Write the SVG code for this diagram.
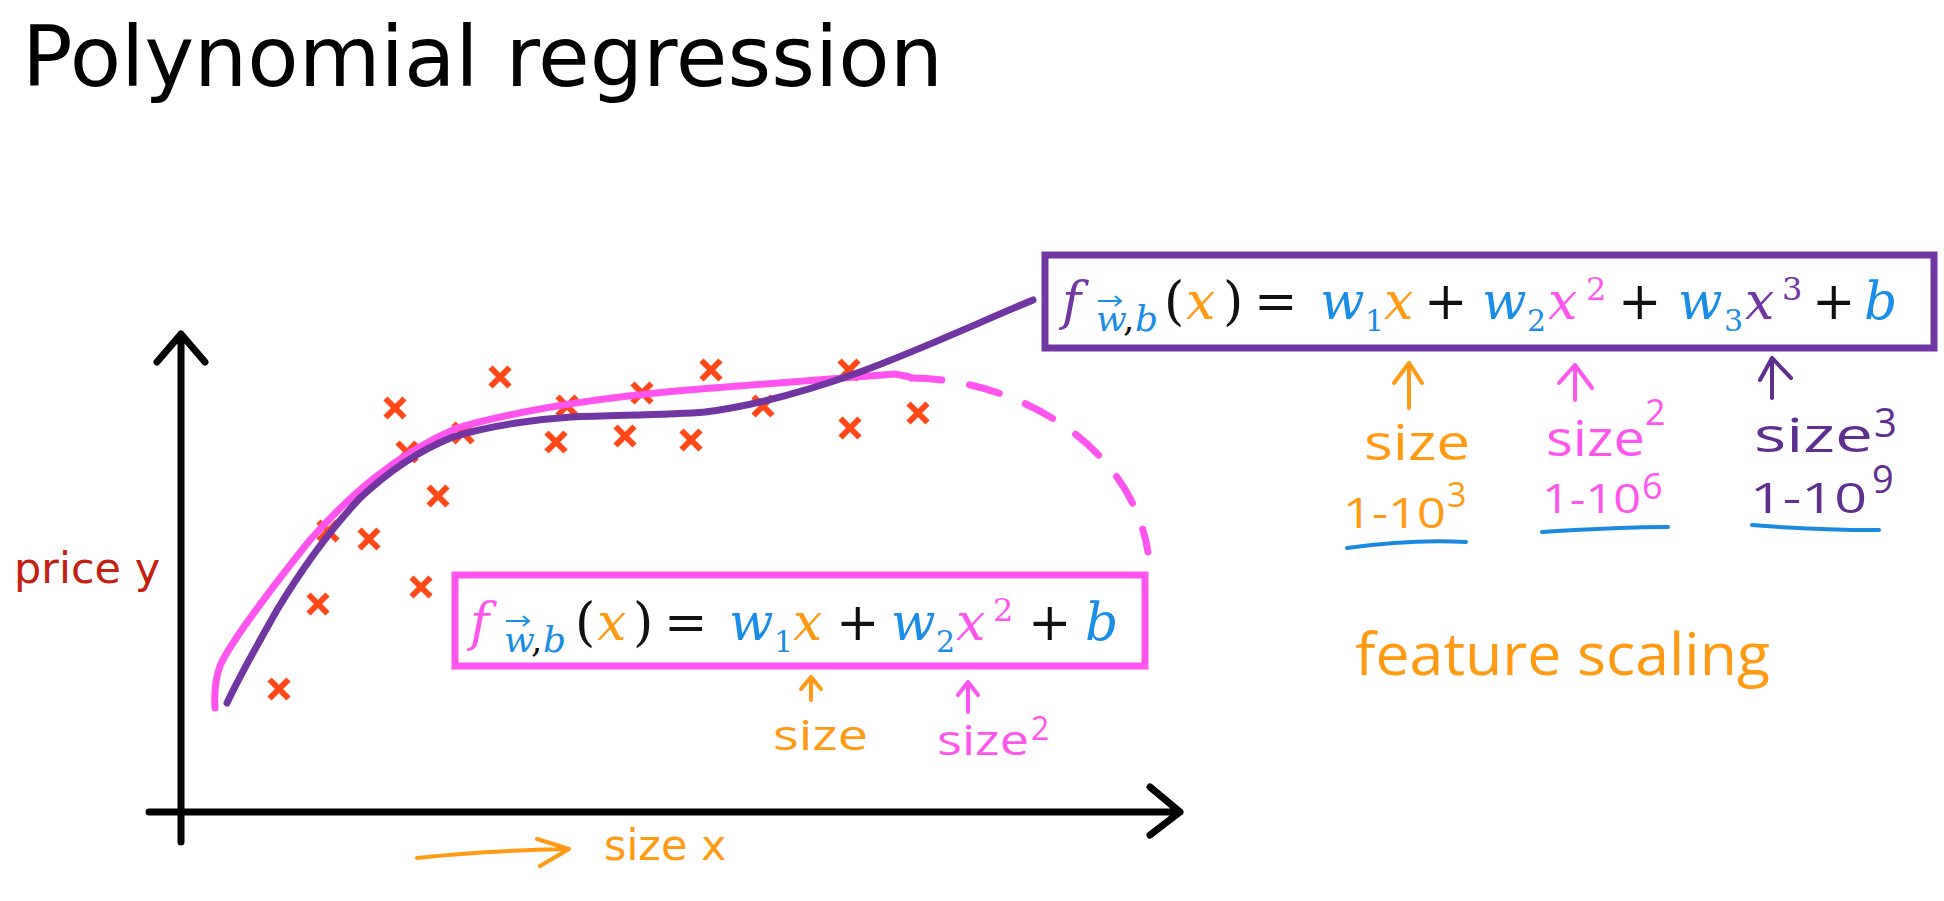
<svg xmlns="http://www.w3.org/2000/svg" width="1944" height="901" viewBox="0 0 1944 901">
<defs>
<style>
.title{font-family:"DejaVu Sans",Verdana,sans-serif;font-size:84px;fill:#000}
.lbl{font-family:"DejaVu Sans",Verdana,sans-serif;font-size:43px}
.hand{font-family:"Open Sans","Lato",sans-serif}
.math{font-family:"DejaVu Serif",serif;font-size:52px}
.it{font-style:italic}
.sub{font-size:36px}
.dig{font-size:30px;font-style:normal}
.sup{font-size:32px;font-style:normal}
.blue{fill:#1a8de6}
.orange{fill:#ff9a12}
.pink{fill:#ff55ee}
.purple{fill:#7236a3}
.dpurple{fill:#5e2f8f}
.black{fill:#111}
.axis{stroke:#000;stroke-width:7;fill:none;stroke-linecap:round;stroke-linejoin:round}
.curve{fill:none;stroke-width:7;stroke-linecap:round;stroke-linejoin:round}
.mk{stroke:#ff4718;stroke-width:6;fill:none}
.harrow{fill:none;stroke-width:4;stroke-linecap:round;stroke-linejoin:round}
.uline{fill:none;stroke:#1a8ae0;stroke-width:4;stroke-linecap:round}
</style>
<path id="xm" class="mk" d="M-9.5,-9.5 L9.5,9.5 M9.5,-9.5 L-9.5,9.5"/>
</defs>
<rect width="1944" height="901" fill="#fff"/>

<g id="title"><text class="title" x="22" y="86">Polynomial regression</text></g>

<g id="axes">
<path class="axis" d="M181,842 L181,334 M157,362 L181,334 L205,362"/>
<path class="axis" d="M149,812 L1180,812 M1150,787 L1180,812 L1150,835"/>
<text class="lbl" x="14" y="583" fill="#c4200f">price y</text>
<text class="lbl" x="604" y="860" fill="#ff9a12">size x</text>
</g>

<g id="data-points">
<use href="#xm" x="279" y="689"/>
<use href="#xm" x="318" y="604"/>
<use href="#xm" x="328" y="531"/>
<use href="#xm" x="369" y="539"/>
<use href="#xm" x="421" y="587"/>
<use href="#xm" x="438" y="496"/>
<use href="#xm" x="395" y="408"/>
<use href="#xm" x="407" y="452"/>
<use href="#xm" x="463" y="433"/>
<use href="#xm" x="500" y="377"/>
<use href="#xm" x="556" y="442"/>
<use href="#xm" x="567" y="406"/>
<use href="#xm" x="625" y="436"/>
<use href="#xm" x="642" y="393"/>
<use href="#xm" x="691" y="440"/>
<use href="#xm" x="711" y="370"/>
<use href="#xm" x="763" y="406"/>
<use href="#xm" x="849" y="370"/>
<use href="#xm" x="850" y="428"/>
<use href="#xm" x="918" y="413"/>
</g>

<g id="curves">
<path id="pink-curve" class="curve" stroke="#ff55ee" d="M215,708 C214,690 215,672 225,656 C240,630 270,590 310,540 C350,495 395,455 457,428 C520,410 600,397 700,389 C780,383 850,378 895,374 L910,377"/>
<path id="pink-dashed" class="curve" stroke="#ff55ee" stroke-linecap="butt" stroke-dasharray="31 28" d="M911,378 C1010,378 1130,440 1148,552"/>
<path id="purple-curve" class="curve" stroke="#7236a3" d="M227,703 C240,675 260,640 277,610 C300,572 330,530 360,498 C390,470 420,450 453,437 C490,425 540,419 571,417 C620,415 670,415 705,412 C760,405 810,390 860,372 C920,350 980,322 1033,300"/>
</g>

<g id="quadratic-model">
<rect x="455" y="575" width="690" height="91" fill="#fff" stroke="#ff55ee" stroke-width="7"/>
<text class="math">
<tspan class="it pink" x="470" y="640">f</tspan>
<tspan class="it sub blue" x="504" y="652">w</tspan>
<tspan class="sub black" x="531" y="652">,</tspan>
<tspan class="it sub blue" x="543" y="652">b</tspan>
<tspan class="black" x="575" y="640">(</tspan>
<tspan class="it orange" x="597" y="640">x</tspan>
<tspan class="black" x="633" y="640">)</tspan>
<tspan class="black" x="664" y="640">=</tspan>
<tspan class="it blue" x="729" y="640">w</tspan>
<tspan class="dig blue" x="774" y="652">1</tspan>
<tspan class="it orange" x="793" y="640">x</tspan>
<tspan class="black" x="836" y="640">+</tspan>
<tspan class="it blue" x="891" y="640">w</tspan>
<tspan class="dig blue" x="936" y="652">2</tspan>
<tspan class="it pink" x="956" y="640">x</tspan>
<tspan class="sup pink" x="993" y="621">2</tspan>
<tspan class="black" x="1028" y="640">+</tspan>
<tspan class="it blue" x="1085" y="640">b</tspan>
</text>
<path d="M506,621 L529,621 M523,616 L529,621 L523,626" fill="none" stroke="#1a8de6" stroke-width="2"/>
</g>

<g id="cubic-model">
<rect x="1045" y="255" width="889" height="93" fill="#fff" stroke="#7236a3" stroke-width="7"/>
<text class="math">
<tspan class="it purple" x="1062" y="319">f</tspan>
<tspan class="it sub blue" x="1096" y="331">w</tspan>
<tspan class="sub black" x="1123" y="331">,</tspan>
<tspan class="it sub blue" x="1135" y="331">b</tspan>
<tspan class="black" x="1164" y="319">(</tspan>
<tspan class="it orange" x="1186" y="319">x</tspan>
<tspan class="black" x="1223" y="319">)</tspan>
<tspan class="black" x="1254" y="319">=</tspan>
<tspan class="it blue" x="1320" y="319">w</tspan>
<tspan class="dig blue" x="1365" y="331">1</tspan>
<tspan class="it orange" x="1384" y="319">x</tspan>
<tspan class="black" x="1424" y="319">+</tspan>
<tspan class="it blue" x="1482" y="319">w</tspan>
<tspan class="dig blue" x="1527" y="331">2</tspan>
<tspan class="it pink" x="1548" y="319">x</tspan>
<tspan class="sup pink" x="1586" y="300">2</tspan>
<tspan class="black" x="1618" y="319">+</tspan>
<tspan class="it blue" x="1678" y="319">w</tspan>
<tspan class="dig blue" x="1724" y="331">3</tspan>
<tspan class="it purple" x="1745" y="319">x</tspan>
<tspan class="sup purple" x="1782" y="300">3</tspan>
<tspan class="black" x="1812" y="319">+</tspan>
<tspan class="it blue" x="1864" y="319">b</tspan>
</text>
<path d="M1098,301 L1121,301 M1115,296 L1121,301 L1115,306" fill="none" stroke="#1a8de6" stroke-width="2"/>
</g>

<g id="annotation-size-left">
<text class="hand orange" x="773" y="750" font-size="42" textLength="95" lengthAdjust="spacingAndGlyphs">size</text>
</g>
<g id="annotation-size2-left">
<text class="hand pink" x="937" y="755" font-size="42" textLength="92" lengthAdjust="spacingAndGlyphs">size</text>
<text class="hand pink" x="1031" y="740" font-size="32">2</text>
</g>

<g id="annotation-size-right">
<text class="hand orange" x="1364" y="460" font-size="50" textLength="106" lengthAdjust="spacingAndGlyphs">size</text>
<text class="hand orange" x="1343" y="528" font-size="42" textLength="103" lengthAdjust="spacingAndGlyphs">1-10</text>
<text class="hand orange" x="1447" y="507" font-size="34">3</text>
</g>
<g id="annotation-size2-right">
<text class="hand pink" x="1546" y="456" font-size="50" textLength="99" lengthAdjust="spacingAndGlyphs">size</text>
<text class="hand pink" x="1645" y="425" font-size="36">2</text>
<text class="hand pink" x="1542" y="513" font-size="40" textLength="99" lengthAdjust="spacingAndGlyphs">1-10</text>
<text class="hand pink" x="1642" y="499" font-size="36">6</text>
</g>
<g id="annotation-size3-right">
<text class="hand dpurple" x="1754" y="452" font-size="48" textLength="119" lengthAdjust="spacingAndGlyphs">size</text>
<text class="hand dpurple" x="1874" y="437" font-size="40">3</text>
<text class="hand dpurple" x="1750" y="513" font-size="42" textLength="117" lengthAdjust="spacingAndGlyphs">1-10</text>
<text class="hand dpurple" x="1872" y="493" font-size="38">9</text>
</g>
<g id="feature-scaling">
<text class="hand orange" x="1355" y="675" font-size="58" textLength="415" lengthAdjust="spacingAndGlyphs">feature scaling</text>
</g>

<g id="connectors">
<path class="harrow" stroke="#ff9a12" d="M811,700 L811,677 M801,689 L811,677 L821,689"/>
<path class="harrow" stroke="#ff55ee" d="M968,712 L968,682 M958,695 L968,682 L978,695"/>
<path class="harrow" stroke="#ff9a12" d="M1409,408 L1409,363 M1394,383 L1409,363 L1422,383"/>
<path class="harrow" stroke="#ff55ee" d="M1575,400 L1575,365 M1559,383 L1575,365 L1592,388"/>
<path class="harrow" stroke="#5e2f8f" d="M1772,398 L1772,358 M1760,380 L1772,358 L1791,378"/>
<path class="harrow" stroke="#ff9a12" stroke-width="5" d="M417,858 C470,852 520,850 568,849 M537,839 L569,849 L540,866"/>
<path class="uline" d="M1347,548 C1390,542 1430,540 1466,542"/>
<path class="uline" d="M1542,532 C1590,529 1630,527 1668,527"/>
<path class="uline" d="M1752,525 C1800,529 1840,530 1879,530"/>
</g>
</svg>
